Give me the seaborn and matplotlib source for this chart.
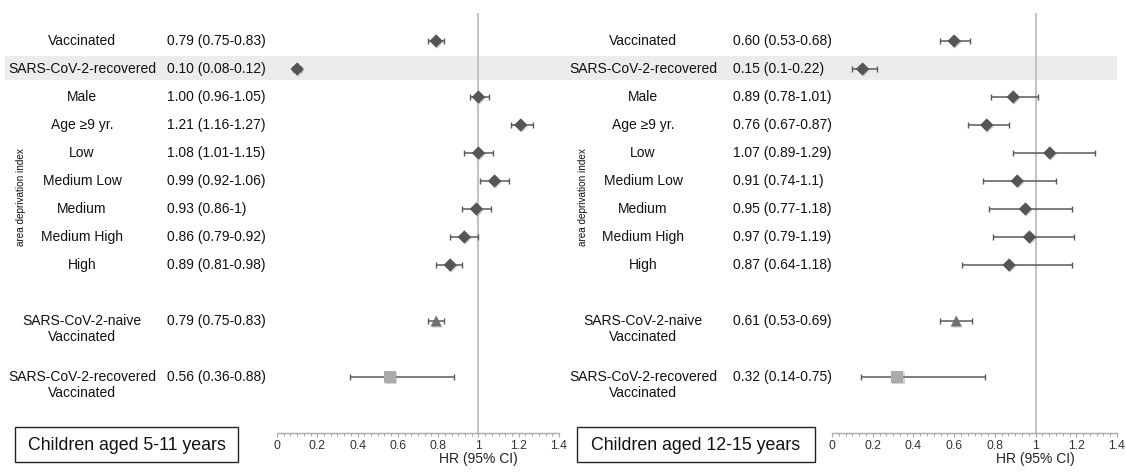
import numpy as np
import pandas as pd
import seaborn as sns
import matplotlib.pyplot as plt
from matplotlib.patches import Rectangle
from matplotlib.ticker import MultipleLocator, AutoMinorLocator
import matplotlib.transforms as mtransforms
import matplotlib.patheffects as pe

sns.set_style("white")
plt.rcParams['font.family'] = ['Liberation Sans', 'DejaVu Sans']

# row labels and their row positions (blank rows at 9 and 11)
labels = ["Vaccinated", "SARS-CoV-2-recovered", "Male", "Age \u22659 yr.", "Low",
          "Medium Low", "Medium", "Medium High", "High",
          "SARS-CoV-2-naive\nVaccinated", "SARS-CoV-2-recovered\nVaccinated"]
rows = [0, 1, 2, 3, 4, 5, 6, 7, 8, 10, 12]
kind = ["d"] * 9 + ["naive", "recovered"]

# children aged 5-11: printed values and plotted points (as drawn)
text_511 = ["0.79 (0.75-0.83)", "0.10 (0.08-0.12)", "1.00 (0.96-1.05)", "1.21 (1.16-1.27)",
            "1.08 (1.01-1.15)", "0.99 (0.92-1.06)", "0.93 (0.86-1)", "0.86 (0.79-0.92)",
            "0.89 (0.81-0.98)", "0.79 (0.75-0.83)", "0.56 (0.36-0.88)"]
hr_511 = [0.79, 0.10, 1.00, 1.21, 1.00, 1.08, 0.99, 0.93, 0.86, 0.79, 0.56]
lo_511 = [0.75, 0.08, 0.96, 1.16, 0.93, 1.01, 0.92, 0.86, 0.79, 0.75, 0.36]
hi_511 = [0.83, 0.12, 1.05, 1.27, 1.07, 1.15, 1.06, 1.00, 0.92, 0.83, 0.88]

# children aged 12-15
text_1215 = ["0.60 (0.53-0.68)", "0.15 (0.1-0.22)", "0.89 (0.78-1.01)", "0.76 (0.67-0.87)",
             "1.07 (0.89-1.29)", "0.91 (0.74-1.1)", "0.95 (0.77-1.18)", "0.97 (0.79-1.19)",
             "0.87 (0.64-1.18)", "0.61 (0.53-0.69)", "0.32 (0.14-0.75)"]
hr_1215 = [0.60, 0.15, 0.89, 0.76, 1.07, 0.91, 0.95, 0.97, 0.87, 0.61, 0.32]
lo_1215 = [0.53, 0.10, 0.78, 0.67, 0.89, 0.74, 0.77, 0.79, 0.64, 0.53, 0.14]
hi_1215 = [0.68, 0.22, 1.01, 0.87, 1.29, 1.10, 1.18, 1.19, 1.18, 0.69, 0.75]

W, H = 1126, 472
fig = plt.figure(figsize=(W / 100, H / 100), dpi=100)

panels = [
    dict(title="Children aged 5-11 years", text=text_511, hr=hr_511, lo=lo_511, hi=hi_511,
         ax_x=(277, 559), lab_x=82, val_x=167, idx_x=21, box=(15, 238)),
    dict(title="Children aged 12-15 years", text=text_1215, hr=hr_1215, lo=lo_1215, hi=hi_1215,
         ax_x=(832, 1117), lab_x=643, val_x=733, idx_x=583, box=(577, 815)),
]

fs = 10
axes = []
for p in panels:
    x0, x1 = p["ax_x"]
    ax = fig.add_axes([x0 / W, 1 - 433 / H, (x1 - x0) / W, 420 / H])
    ax.set_facecolor("none")
    axes.append(ax)

    df = pd.DataFrame({"row": rows, "hr": p["hr"], "lo": p["lo"], "hi": p["hi"], "kind": kind})

    ax.axvline(1, color="#c4c4c4", lw=1.5, zorder=1)
    ax.errorbar(df.hr, df.row, xerr=[df.hr - df.lo, df.hi - df.hr], fmt="none",
                ecolor="#5a5a5a", elinewidth=1.1, capsize=2.5, capthick=1.0, zorder=2)
    sns.scatterplot(data=df, x="hr", y="row", hue="kind", style="kind", size="kind",
                    palette={"d": "#555555", "naive": "#707070", "recovered": "#ababab"},
                    markers={"d": "D", "naive": "^", "recovered": "s"},
                    sizes={"d": 46, "naive": 62, "recovered": 82},
                    linewidth=0, legend=False, ax=ax, zorder=3)
    for coll in ax.collections:
        coll.set_path_effects([pe.SimplePatchShadow(offset=(0.8, -0.8), shadow_rgbFace="#888888", alpha=0.35),
                               pe.Normal()])

    ax.set_xlim(0, 1.4)
    ax.set_ylim(14, -1)
    ax.xaxis.set_major_locator(MultipleLocator(0.2))
    ax.xaxis.set_minor_locator(AutoMinorLocator(6))
    ax.set_xticks(np.arange(0, 1.41, 0.2))
    ax.set_xticklabels(["0", "0.2", "0.4", "0.6", "0.8", "1", "1.2", "1.4"])
    ax.set_yticks([])
    ax.set_xlabel("")
    ax.set_ylabel("")
    for s in ["top", "right", "left"]:
        ax.spines[s].set_visible(False)
    ax.spines["bottom"].set_color("#a8a8a8")
    ax.spines["bottom"].set_linewidth(1.0)
    ax.tick_params(axis="x", which="major", length=3, width=0.8, color="#a8a8a8",
                   labelsize=8.8, labelcolor="#333333", pad=2, bottom=True)
    ax.tick_params(axis="x", which="minor", length=2.2, width=0.7, color="#a8a8a8", bottom=True)

    # x axis title placed under x = 1
    tr = mtransforms.blended_transform_factory(ax.transData, fig.transFigure)
    ax.text(1, 1 - 459 / H, "HR (95% CI)", transform=tr, ha="center", va="center",
            fontsize=fs, color="#222222")

    # label and value columns
    trl = mtransforms.blended_transform_factory(fig.transFigure, ax.transData)
    for lab, r, v in zip(labels, rows, p["text"]):
        for k, line in enumerate(lab.split("\n")):
            ax.text(p["lab_x"] / W, r + 0.57 * k, line, transform=trl, ha="center", va="center",
                    fontsize=fs, color="#111111")
        ax.text(p["val_x"] / W, r, v, transform=trl, ha="left", va="center",
                fontsize=fs, color="#111111")
    ax.text(p["idx_x"] / W, 5.57, "area deprivation index", transform=trl, rotation=90,
            ha="center", va="center", fontsize=7.2, color="#111111")

    # title box
    bx0, bx1 = p["box"]
    fig.add_artist(Rectangle((bx0 / W, 1 - 462 / H), (bx1 - bx0) / W, 35 / H,
                             transform=fig.transFigure, fill=False, edgecolor="#222222", lw=1.0))
    fig.text((bx0 + bx1) / 2 / W, 1 - 445 / H, p["title"], ha="center", va="center",
             fontsize=12.8, color="#111111")

# shaded row for SARS-CoV-2-recovered across the whole figure
band_tr = mtransforms.blended_transform_factory(fig.transFigure, axes[0].transData)
fig.add_artist(Rectangle((5 / W, 0.536), (1117 - 5) / W, 0.857, transform=band_tr,
                         facecolor="#ececec", edgecolor="none", zorder=-1))

plt.savefig("out.png", dpi=100)
